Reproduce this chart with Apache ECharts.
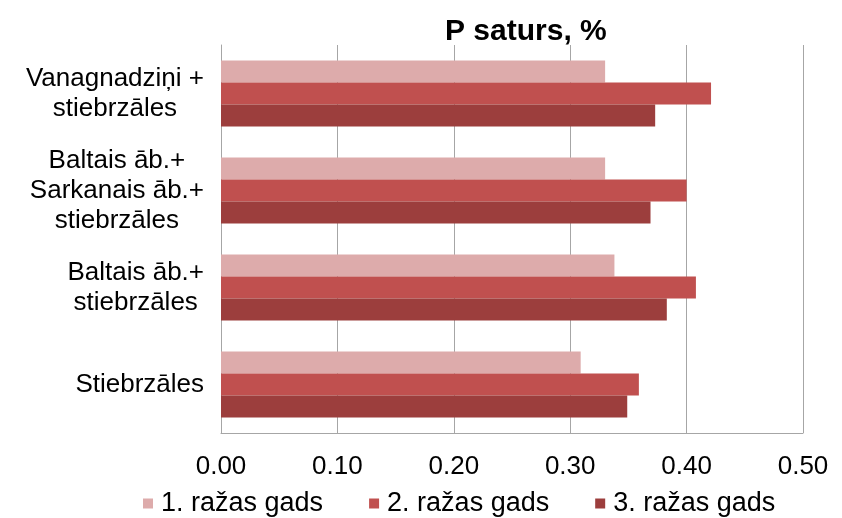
<!DOCTYPE html>
<html><head><meta charset="utf-8">
<script src="https://cdn.jsdelivr.net/npm/echarts@6/dist/echarts.min.js"></script>
<style>html,body{margin:0;padding:0;background:#fff}#c{width:842px;height:518px}</style>
</head><body><div id="c"></div>
<script>
const categories = ["Vanagnadziņi +\nstiebrzāles", "Baltais āb.+\nSarkanais āb.+\nstiebrzāles", "Baltais āb.+\nstiebrzāles", "Stiebrzāles"];
const seriesNames = ["1. ražas gads", "2. ražas gads", "3. ražas gads"];
const year1 = [0.330, 0.330, 0.338, 0.309];
const year2 = [0.421, 0.400, 0.408, 0.359];
const year3 = [0.373, 0.369, 0.383, 0.349];
const colors = ["#DDABAB", "#C0504F", "#9C3E3D"];
const font = "'Liberation Sans', Arial, sans-serif";
const chart = echarts.init(document.getElementById('c'), null, {renderer: 'canvas'});
chart.setOption({
  animation: false,
  title: { text: "P saturs, %", left: 445, top: 17, padding: 0, textStyle: { fontFamily: font, fontSize: 30, fontWeight: 'bold', color: '#000' } },
  grid: { left: 221, right: 39, top: 45, bottom: 85 },
  legend: {
    data: seriesNames, left: 143, top: 490, padding: 0, itemWidth: 10, itemHeight: 10, itemGap: 46,
    icon: 'rect', textStyle: { fontFamily: font, fontSize: 27, color: '#000', padding: [0, 0, 0, 3] }
  },
  xAxis: {
    type: 'value', min: 0, max: 0.5, interval: 0.1,
    axisLabel: { formatter: v => v.toFixed(2), fontFamily: font, fontSize: 26, color: '#000', margin: 21 },
    splitLine: { show: true, lineStyle: { color: '#A6A6A6', width: 1 } },
    axisLine: { show: true, lineStyle: { color: '#A6A6A6' } },
    axisTick: { show: false }
  },
  yAxis: {
    type: 'category', data: categories, inverse: true,
    axisLabel: {
      align: 'right', margin: 17,
      formatter: v => v.split('\n').map(s => '{c|' + s + '}').join('\n'),
      rich: { c: { align: 'center', fontFamily: font, fontSize: 26, lineHeight: 30, color: '#000' } }
    },
    axisLine: { show: true, lineStyle: { color: '#A6A6A6' } },
    axisTick: { show: false }
  },
  series: [year1, year2, year3].map((d, i) => ({
    name: seriesNames[i], type: 'bar', data: d, barGap: '0%', barCategoryGap: '32%',
    itemStyle: { color: colors[i] }
  }))
});
</script></body></html>
